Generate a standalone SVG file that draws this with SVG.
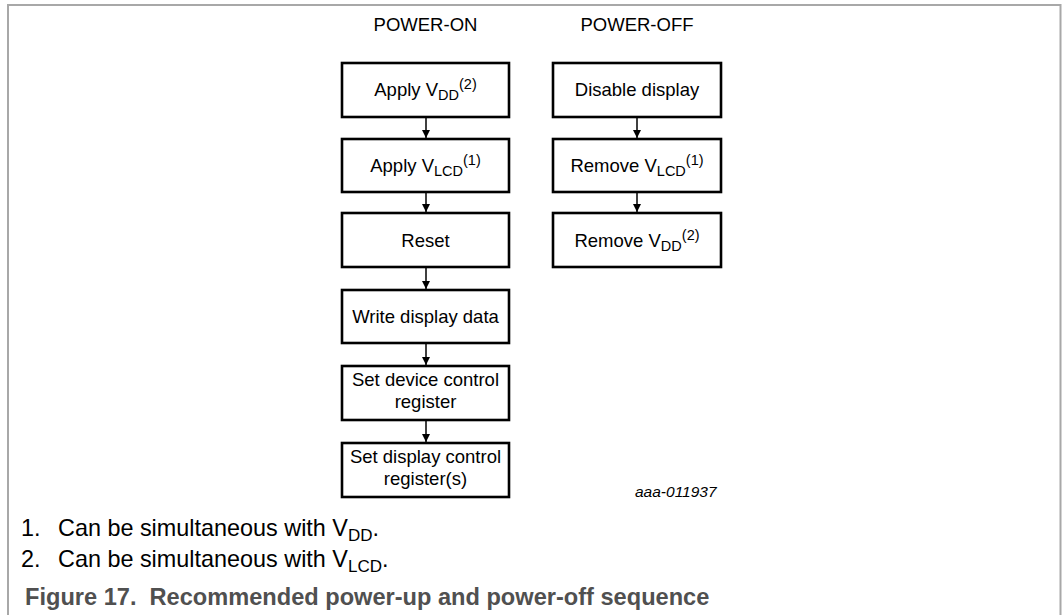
<svg xmlns="http://www.w3.org/2000/svg" width="1062" height="615" viewBox="0 0 1062 615">
<style>
.frame{fill:none;stroke:#a8a8a8;stroke-width:2}
.box{fill:#fff;stroke:#000;stroke-width:2.6}
.t{font-family:"Liberation Sans",Arial,sans-serif;font-size:18.5px;fill:#000;text-anchor:middle}
.s{font-size:14.5px}
.hd{font-family:"Liberation Sans",Arial,sans-serif;font-size:18.5px;fill:#000;text-anchor:middle}
.conn{stroke:#000;stroke-width:1.5;fill:none}
.fn{font-family:"Liberation Sans",Arial,sans-serif;font-size:23.4px;fill:#000}
.fs{font-size:17px}
.cap{font-family:"Liberation Sans",Arial,sans-serif;font-size:23.6px;font-weight:bold;fill:#505050}
.id{font-family:"Liberation Sans",Arial,sans-serif;font-size:15.5px;font-style:italic;fill:#000}
</style>
<defs>
<marker id="ah" viewBox="0 0 10 10" refX="10" refY="5" markerWidth="8.5" markerHeight="8" markerUnits="userSpaceOnUse" orient="auto">
<path d="M0,0 L10,5 L0,10 z" fill="#000"/>
</marker>
</defs>
<rect width="1062" height="615" fill="#fff"/>
<path class="frame" d="M8,616 V5 H1060.5 V616"/>

<text class="hd" x="425.5" y="31">POWER-ON</text>
<text class="hd" x="637" y="31">POWER-OFF</text>

<g id="connectors">
<line class="conn" x1="426" y1="118" x2="426" y2="138" marker-end="url(#ah)"/>
<line class="conn" x1="426" y1="193" x2="426" y2="212" marker-end="url(#ah)"/>
<line class="conn" x1="426" y1="268" x2="426" y2="289" marker-end="url(#ah)"/>
<line class="conn" x1="426" y1="344" x2="426" y2="365" marker-end="url(#ah)"/>
<line class="conn" x1="426" y1="421" x2="426" y2="442" marker-end="url(#ah)"/>
<line class="conn" x1="637" y1="118" x2="637" y2="138" marker-end="url(#ah)"/>
<line class="conn" x1="637" y1="193" x2="637" y2="212" marker-end="url(#ah)"/>
</g>

<g id="apply-vdd">
<rect class="box" x="342" y="63" width="167" height="54"/>
<text class="t" x="425.5" y="96">Apply V<tspan class="s" dy="4">DD</tspan><tspan class="s" dy="-11">(2)</tspan></text>
</g>
<g id="apply-vlcd">
<rect class="box" x="342" y="139" width="167" height="53"/>
<text class="t" x="425.5" y="172">Apply V<tspan class="s" dy="4">LCD</tspan><tspan class="s" dy="-11">(1)</tspan></text>
</g>
<g id="reset">
<rect class="box" x="342" y="213" width="167" height="54"/>
<text class="t" x="425.5" y="247">Reset</text>
</g>
<g id="write-data">
<rect class="box" x="342" y="290" width="167" height="53"/>
<text class="t" x="425.5" y="323">Write display data</text>
</g>
<g id="set-device">
<rect class="box" x="342" y="366" width="167" height="54"/>
<text class="t" x="425.5" y="386">Set device control</text>
<text class="t" x="425.5" y="408">register</text>
</g>
<g id="set-display">
<rect class="box" x="342" y="443" width="167" height="54"/>
<text class="t" x="425.5" y="463">Set display control</text>
<text class="t" x="425.5" y="485">register(s)</text>
</g>

<g id="disable-display">
<rect class="box" x="553" y="63" width="168" height="54"/>
<text class="t" x="637" y="96">Disable display</text>
</g>
<g id="remove-vlcd">
<rect class="box" x="553" y="139" width="168" height="53"/>
<text class="t" x="637" y="172">Remove V<tspan class="s" dy="4">LCD</tspan><tspan class="s" dy="-11">(1)</tspan></text>
</g>
<g id="remove-vdd">
<rect class="box" x="553" y="213" width="168" height="54"/>
<text class="t" x="637" y="247">Remove V<tspan class="s" dy="4">DD</tspan><tspan class="s" dy="-11">(2)</tspan></text>
</g>

<text class="id" x="635" y="497">aaa-011937</text>

<text class="fn" x="21" y="536">1.</text>
<text class="fn" x="58" y="536">Can be simultaneous with V<tspan class="fs" dy="5">DD</tspan><tspan dy="-5">.</tspan></text>
<text class="fn" x="21" y="567">2.</text>
<text class="fn" x="58" y="567">Can be simultaneous with V<tspan class="fs" dy="5">LCD</tspan><tspan dy="-5">.</tspan></text>
<text class="cap" x="25" y="605" xml:space="preserve">Figure 17.  Recommended power-up and power-off sequence</text>
</svg>
